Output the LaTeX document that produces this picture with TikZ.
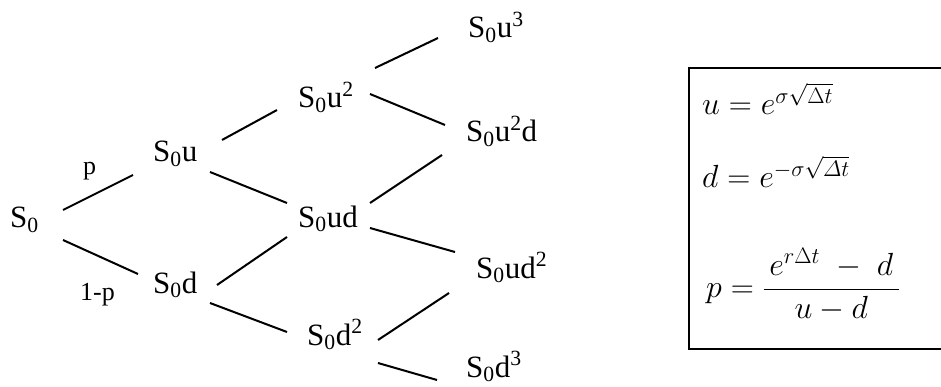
\RequirePackage{fix-cm}
\documentclass[tikz,border=0pt]{standalone}
\usepackage{amsmath}
\usepackage{fontspec}
\setmainfont{Liberation Serif}[Ligatures=TeX]
\begin{document}
\begin{tikzpicture}[x=1pt,y=-1pt,
  lab/.style={anchor=base west,inner sep=0pt,font=\fontsize{31}{36}\selectfont},
  prob/.style={anchor=base west,inner sep=0pt,font=\fontsize{26}{30}\selectfont},
  eqn/.style={anchor=base west,inner sep=0pt,font=\fontsize{32}{38}\selectfont},
  conn/.style={line width=2pt},
  frame/.style={line width=2pt}]
\useasboundingbox (0,0) rectangle (941,387);
% tree nodes
\node[lab] (s0)    at (10,228)  {S\textsubscript{0}};
\node[lab] (s0u)   at (153,162) {S\textsubscript{0}u};
\node[lab] (s0d)   at (153,293) {S\textsubscript{0}d};
\node[lab] (s0uu)  at (298,108) {S\textsubscript{0}u\textsuperscript{2}};
\node[lab] (s0ud)  at (298,227) {S\textsubscript{0}ud};
\node[lab] (s0dd)  at (307,345) {S\textsubscript{0}d\textsuperscript{2}};
\node[lab] (s0uuu) at (468,38)  {S\textsubscript{0}u\textsuperscript{3}};
\node[lab] (s0uud) at (466,142) {S\textsubscript{0}u\textsuperscript{2}d};
\node[lab] (s0udd) at (476,278) {S\textsubscript{0}ud\textsuperscript{2}};
\node[lab] (s0ddd) at (466,377) {S\textsubscript{0}d\textsuperscript{3}};
% probability labels
\node[prob] (lp)  at (83,175) {p};
\node[prob] (lq)  at (80,300) {1-p};
% connectors
\draw[conn] ([shift={(53,-18)}]s0.base west)   -- ([shift={(-20,13)}]s0u.base west);
\draw[conn] ([shift={(53,12)}]s0.base west)    -- ([shift={(-15,-19)}]s0d.base west);
\draw[conn] ([shift={(69,-22)}]s0u.base west)  -- ([shift={(-21,2)}]s0uu.base west);
\draw[conn] ([shift={(57,10)}]s0u.base west)   -- ([shift={(-11,-24)}]s0ud.base west);
\draw[conn] ([shift={(64,-8)}]s0d.base west)   -- ([shift={(-11,10)}]s0ud.base west);
\draw[conn] ([shift={(57,10)}]s0d.base west)   -- ([shift={(-20,-13)}]s0dd.base west);
\draw[conn] ([shift={(77,-40)}]s0uu.base west) -- ([shift={(-30,0)}]s0uuu.base west);
\draw[conn] ([shift={(72,-14)}]s0uu.base west) -- ([shift={(-21,-17)}]s0uud.base west);
\draw[conn] ([shift={(72,-24)}]s0ud.base west) -- ([shift={(-24,13)}]s0uud.base west);
\draw[conn] ([shift={(72,1)}]s0ud.base west)   -- ([shift={(-21,-26)}]s0udd.base west);
\draw[conn] ([shift={(71,-5)}]s0dd.base west)  -- ([shift={(-27,15)}]s0udd.base west);
\draw[conn] ([shift={(71,18)}]s0dd.base west)  -- ([shift={(-29,3)}]s0ddd.base west);
% formula box
\draw[frame] (689,68) rectangle (952,349);
\node[eqn] (equ) at (702,115) {$u = e^{\sigma\sqrt{\Delta t}}$};
\node[eqn] (eqd) at (702,188) {$d = e^{-\sigma\sqrt{\varDelta t}}$};
\node[eqn] (eqp) at (706,297) {$p = \dfrac{\,e^{r\Delta t} \;-\; d\,}{u - d}$};
\end{tikzpicture}
\end{document}
